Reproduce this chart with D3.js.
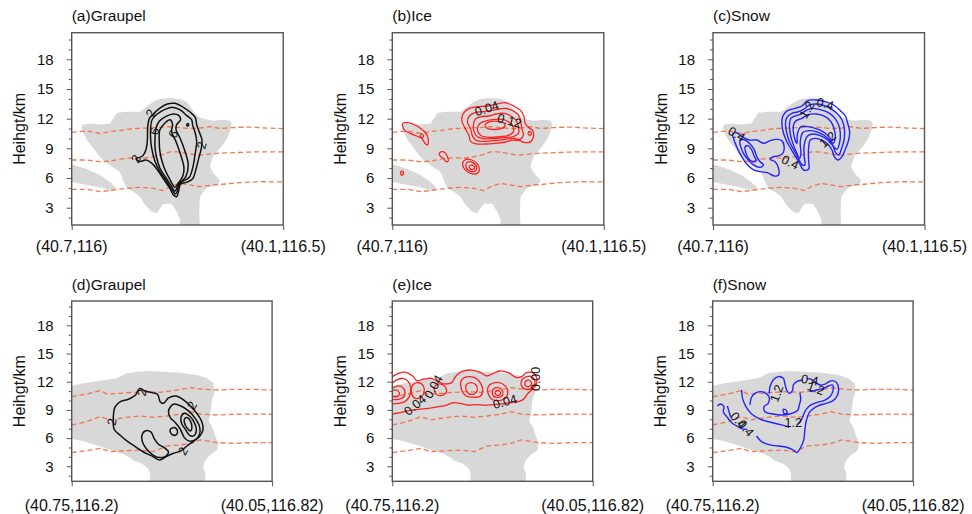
<!DOCTYPE html>
<html>
<head>
<meta charset="utf-8">
<script src="https://cdn.jsdelivr.net/npm/d3@7"></script>
<style>
body { margin: 0; background: #fff; }
text { font-family: "Liberation Sans", Arial, sans-serif; }
</style>
</head>
<body>
<svg id="chart" width="972" height="514"></svg>
<script>
// ---- data (x = % along the cross-section, y = height in km) ----
var titles = ["(a)Graupel", "(b)Ice", "(c)Snow", "(d)Graupel", "(e)Ice", "(f)Snow"];
var xLabelsTop = ["(40.7,116)", "(40.1,116.5)"];
var xLabelsBottom = ["(40.75,116.2)", "(40.05,116.82)"];
var yTicks = [3, 6, 9, 12, 15, 18];
var yMinor = [2, 4, 5, 7, 8, 10, 11, 13, 14, 16, 17, 19, 20];

// cloud area (grey) along the two sections
var cloudTop = [[5.2,11.4],[8.7,11.5],[13.4,11.4],[18.1,11.5],[20.5,12.3],[21.3,12.6],[26,12.7],[32.3,12.7],[35.4,13.2],[38.6,13.7],[41.7,14.0],[46.5,14.1],[51.2,14.0],[54.3,13.7],[56.7,13.0],[59.1,12.3],[62.2,12.0],[66.9,11.8],[71.7,11.9],[74.8,11.8],[75.6,11.5],[74.8,10.7],[73.2,9.9],[70.9,9.2],[66.9,8.2],[65.3,7.2],[66.9,6.5],[70,5.8],[69.3,5.3],[63.7,5.0],[60.6,4.1],[60.3,2.5],[60.6,1.25],[51.2,1.25],[51.2,1.8],[49.6,2.6],[47.3,3.4],[43.3,3.4],[40.2,2.45],[37.8,2.6],[34.6,3.3],[32.3,4.1],[29.1,4.62],[26,4.96],[24.4,5.7],[22.8,6.6],[18.1,7.3],[13.4,8.1],[10.2,9.0],[7.4,9.8],[5.5,10.5],[4.7,11.0]];
var stripTop = [[0,7.4],[7.1,6.9],[13.4,6.3],[18.1,5.6],[21,5.0],[18.9,4.7],[13.4,5.05],[7.1,5.3],[0,5.6]];
var cloudBottom = [[0,11.54],[5.8,11.83],[14.2,12.11],[22.5,12.36],[27.5,12.89],[32.5,13.07],[39.2,13.14],[45.8,13.07],[54.2,12.96],[62.5,12.71],[67.5,12.36],[70.8,11.83],[71.2,10.8],[70,10.09],[69.2,8.67],[68.3,7.79],[70,7.26],[71.7,6.19],[73,5.5],[72.5,4.7],[69,4.2],[66.5,3.6],[65.5,2.9],[66.7,2.25],[66.7,1.4],[39,1.4],[39,2.3],[38,2.8],[35,3.3],[31,3.6],[28.3,4.0],[25.8,4.3],[20.8,4.6],[15.8,5.0],[10.8,5.35],[5.8,5.65],[0,5.9]];

// dashed isotherm-like lines
var levelsTop = [
  [[0,10.62],[7.1,10.75],[13.4,10.5],[18.1,10.7],[22.8,10.8],[29.1,11.0],[35.4,11.05],[41.7,11.1],[46.5,11.2],[51.2,11.1],[55.9,11.0],[60.6,11.05],[65.4,11.2],[70.1,11.0],[76.4,11.1],[84.3,11.15],[92.1,11.05],[100,11.0]],
  [[0,7.82],[7.1,7.82],[13.4,7.65],[18.1,7.7],[22.8,7.9],[29.1,8.05],[33.9,8.0],[38.6,8.15],[43.3,8.4],[46.5,8.65],[49.6,8.65],[54.3,8.5],[59.1,8.3],[63.8,8.4],[68.5,8.5],[74.8,8.55],[81.1,8.6],[89,8.65],[100,8.65]],
  [[0,4.86],[7.1,4.86],[13.4,4.62],[19.7,4.79],[26,4.96],[32.3,5.06],[38.6,4.96],[43.3,4.72],[46.5,5.13],[51.2,5.46],[55.9,5.3],[60.6,5.13],[66.9,5.3],[73.2,5.4],[79.5,5.53],[89,5.63],[100,5.6]]
];
var levelsBottom = [
  [[0,10.41],[7.5,10.69],[14.2,11.05],[17.5,10.69],[24.2,10.76],[30.8,10.87],[37.5,10.94],[44.2,10.87],[50.8,11.05],[59.2,11.36],[65.8,11.19],[72.5,11.12],[80.8,11.19],[90.8,11.19],[100,11.12]],
  [[0,7.39],[7.5,7.75],[14.2,8.28],[19.2,7.93],[27.5,8.21],[34.2,8.35],[40.8,8.21],[47.5,8.35],[54.2,8.56],[59.2,8.81],[64.2,8.56],[72.5,8.46],[80.8,8.53],[90.8,8.56],[100,8.53]],
  [[0,4.45],[7.5,4.66],[14.2,4.91],[19.2,4.56],[27.5,4.66],[34.2,4.73],[40.8,4.56],[47.5,5.16],[54.2,5.27],[59.2,5.44],[64.2,5.8],[72.5,5.52],[80.8,5.44],[90.8,5.52],[100,5.52]]
];

// (a) graupel contours
var graupelA = [
  [[30.4,7.95],[33.5,8.22],[35.1,8.86],[35.8,9.87],[35.9,11.05],[36.7,12.0],[38.6,12.47],[41.7,13.07],[45.2,13.48],[48.8,13.55],[52.4,13.2],[55.9,12.67],[58.4,12.13],[59.1,11.39],[60.3,10.65],[61.6,9.87],[61.3,9.03],[60.0,7.95],[58.7,6.84],[57.2,5.93],[54.3,5.56],[51.5,5.39],[50.6,4.72],[49.6,4.11],[48.0,4.31],[46.5,4.92],[43.6,5.83],[40.5,6.84],[37.8,7.51],[35.1,7.82],[32.3,7.68]],
  [[37.3,11.05],[38.0,11.89],[40.5,12.47],[44.1,12.94],[48.0,13.14],[51.5,12.87],[54.3,12.33],[56.7,11.89],[57.2,11.32],[58.3,10.65],[59.1,9.70],[58.3,8.36],[57.2,7.01],[55.6,6.07],[53.1,5.73],[50.9,5.49],[49.9,4.65],[49.0,4.38],[47.7,4.72],[44.9,5.66],[41.7,6.67],[39.4,7.68],[37.8,9.03],[37.3,10.04]],
  [[39.4,10.04],[39.9,11.05],[41.4,11.73],[44.6,12.23],[48.0,12.47],[50.6,12.33],[51.5,11.89],[49.6,11.39],[49.3,10.88],[51.2,10.04],[53.6,8.69],[55.1,7.35],[54.0,6.17],[52.0,5.66],[49.9,5.06],[48.8,4.65],[47.2,5.16],[44.6,6.0],[41.7,7.01],[40.2,8.02],[39.4,9.03]],
  [[41.4,9.70],[41.7,10.88],[44.1,11.56],[46.5,11.89],[47.7,11.39],[47.2,10.72],[49.3,9.70],[51.5,8.36],[53.1,7.01],[52.5,6.17],[50.4,5.49],[48.8,5.06],[46.5,5.83],[44.1,6.84],[42.5,7.85],[41.7,8.69]],
  [[54.5,11.45],[55.1,11.5],[55.2,11.3],[54.6,11.28]]
];
var labelsA = [[30.4,7.95,"2",-60],[37.3,12.57,"2",-70],[39.1,10.72,"6",-75],[48.0,10.45,"6",-60],[61.4,9.3,"2",-75]];

// (b) ice contours
var iceB = [
  [[32.83,11.86],[33.62,12.54],[36.46,13.04],[40.24,13.21],[44.66,13.28],[49.39,13.48],[53.33,13.62],[57.28,13.28],[60.75,12.81],[62.33,12.14],[62.8,11.53],[64.38,11.13],[66.43,10.79],[66.74,10.18],[65.48,9.68],[62.8,9.58],[60.11,9.78],[57.28,9.84],[53.33,9.64],[48.6,9.51],[43.87,9.44],[39.61,9.44],[37.09,9.68],[36.14,10.35],[34.4,11.02]],
  [[35.51,11.69],[36.46,12.27],[39.14,12.61],[42.76,12.71],[46.23,12.81],[49.39,12.94],[53.33,13.04],[56.96,12.81],[59.64,12.37],[60.75,11.69],[61.22,11.02],[62.01,10.35],[60.43,9.91],[57.28,10.01],[53.33,9.91],[48.6,9.78],[43.87,9.71],[39.93,9.78],[38.03,10.18],[37.09,10.92]],
  [[38.35,11.36],[39.14,11.93],[41.82,12.2],[45.45,12.27],[49.08,12.47],[52.86,12.54],[56.01,12.27],[58.54,11.8],[59.64,11.19],[59.64,10.52],[57.28,10.18],[52.55,10.08],[47.81,9.98],[43.4,9.98],[40.24,10.18],[38.66,10.69]],
  [[40.24,11.02],[41.5,11.53],[44.66,11.8],[48.6,11.93],[52.23,11.93],[54.91,11.69],[56.96,11.26],[57.28,10.69],[54.91,10.32],[50.97,10.18],[46.23,10.11],[42.29,10.25],[40.71,10.59]],
  [[43.87,11.36],[46.23,11.69],[49.71,11.73],[52.55,11.59],[53.33,11.26],[51.28,10.99],[47.03,10.92],[44.66,11.06]],
  [[64.3,10.6],[65.2,10.7],[65.8,10.5],[65.1,10.3],[64.4,10.4]],
  [[4.91,11.53],[7.59,11.59],[10.74,11.36],[13.9,10.92],[15.95,10.52],[17.05,9.84],[16.58,9.34],[15.47,9.51],[13.9,10.01],[11.53,10.25],[8.38,10.52],[6.01,10.79],[4.91,11.19]],
  [[13.3,10.35],[14.2,10.45],[14.7,10.2],[13.9,10.05],[13.3,10.15]],
  [[22.26,8.5],[23.36,8.66],[24.94,8.56],[26.04,8.16],[26.52,7.75],[25.41,7.65],[24.15,7.99],[22.57,8.23]],
  [[33.3,7.55],[34.88,7.89],[37.56,7.82],[40.24,7.42],[41.19,6.88],[40.24,6.47],[38.03,6.41],[35.51,6.64],[33.62,7.08]],
  [[34.88,7.42],[36.46,7.65],[38.66,7.48],[39.93,7.08],[39.14,6.71],[37.09,6.68],[35.2,6.95]],
  [[36.46,7.21],[38.03,7.28],[38.98,7.04],[38.03,6.87],[36.77,6.94]],
  [[4.0,6.6],[4.7,6.7],[5.3,6.5],[4.8,6.3],[4.1,6.35]]
];
var labelsB = [[44.66,13.04,"0.04",-18],[55.4,11.8,"0.12",15]];

// (c) snow contours
var snowC = [
  [[32.55,11.53],[33.02,12.27],[35.23,12.81],[38.87,13.04],[42.03,13.28],[44.71,13.82],[48.82,13.89],[53.09,13.72],[57.04,13.38],[60.2,12.81],[62.57,12.27],[63.67,11.53],[64.62,10.69],[64.15,9.84],[62.57,8.9],[60.99,8.16],[59.09,7.82],[57.35,8.16],[56.25,8.83],[54.19,9.44],[51.51,9.84],[48.35,10.01],[45.98,9.84],[45.19,9.0],[45.19,7.82],[45.19,6.88],[42.82,6.81],[40.92,7.48],[39.03,8.16],[36.97,8.9],[34.92,9.67],[33.34,10.52]],
  [[34.29,11.53],[34.92,12.14],[37.29,12.54],[39.97,12.67],[42.82,12.94],[45.66,13.38],[49.14,13.48],[53.09,13.28],[56.25,12.94],[58.93,12.47],[60.99,11.86],[62.09,11.02],[62.09,10.01],[60.99,9.1],[59.41,8.33],[57.99,8.56],[56.72,9.24],[54.19,9.84],[51.03,10.25],[47.56,10.45],[44.71,10.25],[43.13,9.34],[43.13,8.16],[43.45,7.32],[42.19,7.32],[39.97,8.16],[38.08,8.9],[36.18,9.67],[34.92,10.52]],
  [[36.18,11.53],[36.81,12.03],[38.87,12.27],[41.55,12.47],[44.4,12.87],[47.24,13.04],[51.51,12.87],[55.14,12.54],[57.67,12.03],[59.41,11.36],[60.2,10.52],[59.88,9.57],[58.62,8.9],[57.04,9.17],[55.14,9.84],[52.3,10.35],[48.82,10.69],[45.66,10.79],[42.5,10.59],[41.24,9.67],[41.55,8.49],[40.92,7.99],[39.34,8.66],[37.76,9.5],[36.5,10.52]],
  [[38.08,11.36],[39.34,11.8],[42.03,12.03],[44.71,12.37],[48.82,12.47],[53.09,12.2],[55.77,11.7],[57.35,10.92],[57.83,10.11],[56.72,9.51],[54.83,10.18],[51.98,10.69],[48.35,11.02],[44.71,11.19],[41.55,11.19],[39.97,10.52],[39.66,9.5],[38.39,10.18]],
  [[9.32,10.45],[11.22,10.58],[13.59,10.18],[17.22,9.84],[20.7,9.84],[23.86,9.51],[27.02,9.78],[30.18,9.91],[32.55,9.78],[33.65,9.17],[33.02,8.5],[30.97,8.23],[28.6,8.16],[27.02,7.89],[29.39,7.65],[30.97,6.98],[30.97,6.31],[28.91,6.2],[25.75,6.54],[22.28,6.64],[18.8,6.88],[15.96,7.41],[13.59,8.16],[11.53,9.0],[9.95,9.84]],
  [[12.8,9.84],[15.17,9.84],[17.54,9.44],[19.43,8.9],[20.7,8.16],[22.28,7.65],[23.86,7.32],[22.28,7.08],[19.12,7.32],[16.75,7.82],[14.38,8.49],[13.11,9.17]],
  [[15.17,9.17],[16.75,9.24],[18.33,8.83],[19.43,8.23],[20.38,7.75],[18.8,7.65],[16.75,7.99],[15.64,8.49]]
];
var labelsC = [[11.2,10.45,"0.4",30],[44.4,12.9,"1.2",-60],[53.1,13.5,"0.4",15],[54.2,9.9,"1.2",-40],[36.5,7.6,"0.4",25]];

// (d) graupel contours
var graupelD = [
  [[20.8,8.35],[21.7,9.35],[24.5,9.91],[28.3,10.13],[31.7,10.55],[33.8,11.26],[36.7,11.01],[40.0,10.84],[42.8,10.66],[44.2,9.84],[45.8,9.7],[48.3,10.27],[52.2,10.48],[55.8,10.06],[59.5,9.35],[62.8,8.53],[65.0,7.72],[65.5,6.87],[63.8,6.16],[60.8,5.66],[57.5,5.16],[54.5,4.63],[50.8,4.38],[47.2,4.03],[43.8,3.67],[40.0,4.1],[35.8,4.52],[31.7,5.09],[27.5,5.7],[24.2,6.3],[21.2,6.94]],
  [[48.3,8.89],[50.8,9.6],[54.5,9.42],[58.3,8.89],[61.7,8.07],[63.8,7.22],[63.8,6.4],[61.7,5.8],[58.3,5.7],[56.2,6.05],[54.2,6.94],[51.7,7.65],[49.2,8.18]],
  [[54.5,8.18],[56.2,8.64],[58.8,8.35],[61.2,7.65],[62.2,6.76],[60.8,6.23],[58.8,6.3],[56.7,6.94],[55.0,7.47]],
  [[56.2,8.0],[57.5,8.18],[59.2,7.82],[60.0,7.11],[59.2,6.76],[57.8,7.01],[56.7,7.36]],
  [[49.2,6.94],[50.5,7.11],[52.2,7.01],[52.8,6.58],[51.7,6.3],[50.0,6.4],[49.2,6.65]],
  [[35.0,6.23],[36.7,6.76],[39.5,6.65],[41.2,5.94],[43.3,5.34],[46.2,4.99],[48.3,4.52],[47.2,4.1],[44.2,3.92],[40.8,4.17],[37.8,4.74],[35.8,5.34]]
];
var labelsD = [[35.0,10.84,"2",-80],[20.0,7.72,"2",-80],[60.0,9.49,"2",-60],[55.5,4.63,"2",-60]];

// (e) ice contours: lines cut by the left edge, and closed rings
var iceELines = [
  [[0,12.54],[3.0,12.89],[6.8,13.0],[10.2,12.61],[12.2,12.12],[15.5,12.26],[19.6,12.36],[23.0,12.01],[26.3,11.76],[29.6,11.9],[31.8,12.61],[34.6,13.07],[39.6,13.24],[43.8,13.0],[47.1,12.61],[50.4,12.89],[53.7,13.14],[57.9,12.96],[61.7,12.46],[64.5,12.54],[67.0,12.96],[70.0,12.96],[72.0,12.46],[71.7,11.65],[69.5,11.12],[67.4,10.69],[65.4,10.12],[62.9,9.88],[58.7,9.77],[54.6,9.63],[50.4,9.56],[46.3,9.49],[42.1,9.56],[37.9,9.52],[33.8,9.7],[30.4,9.77],[27.1,9.52],[23.0,9.34],[18.0,9.17],[13.0,9.06],[8.0,8.92],[3.8,8.71],[0,8.56]],
  [[0,11.83],[2.2,12.19],[5.5,12.36],[8.0,12.01],[9.2,11.3],[8.5,10.41],[6.3,9.88],[3.0,9.7],[0,9.63]],
  [[0,11.3],[2.2,11.54],[4.7,11.47],[6.3,10.94],[5.5,10.34],[3.0,10.12],[0,10.12]],
  [[0,11.05],[1.8,11.12],[3.5,10.84],[3.0,10.48],[0.8,10.41],[0,10.48]]
];
var iceE = [
  [[10.2,11.65],[13.0,11.9],[15.5,11.54],[15.8,10.84],[14.2,10.34],[11.3,10.23],[9.7,10.76]],
  [[21.3,11.54],[23.8,11.76],[26.3,11.47],[27.1,10.94],[25.5,10.59],[22.5,10.59],[21.0,11.05]],
  [[34.6,12.19],[37.9,12.54],[41.8,12.36],[44.1,11.83],[45.1,11.12],[44.1,10.48],[40.4,10.34],[36.8,10.48],[34.6,11.12]],
  [[36.8,11.65],[39.1,11.9],[41.8,11.65],[42.4,11.05],[40.8,10.69],[37.9,10.76],[36.8,11.19]],
  [[47.9,11.47],[51.2,11.9],[55.1,11.76],[57.4,11.19],[57.1,10.41],[54.6,10.05],[50.4,10.05],[48.1,10.59]],
  [[50.1,11.12],[52.4,11.4],[54.7,11.12],[55.1,10.59],[52.9,10.34],[50.4,10.48]],
  [[51.4,10.9],[53.1,11.05],[54.1,10.76],[52.9,10.55],[51.6,10.66]],
  [[64.5,12.12],[67.0,12.54],[70.0,12.46],[71.2,11.9],[69.5,11.3],[66.7,11.19],[64.7,11.47]],
  [[66.2,11.9],[67.9,12.19],[69.5,11.9],[68.7,11.54],[66.7,11.54]]
];
var labelsE = [[11.3,9.52,"0.04",-40],[20.5,11.47,"0.04",-60],[56.2,9.88,"0.04",-15],[71.6,12.3,"0.00",-90]];

// (f) snow contours
var snowFLines = [
  [[21.9,6.22],[24.4,5.62],[28.6,5.27],[32.7,5.16],[36.9,5.02],[40.2,4.73],[41.9,4.45],[43.9,5.02],[45.5,5.87],[46.0,6.93],[46.9,8.0],[48.5,8.81],[52.2,9.41],[56.5,9.7],[60.1,9.98],[62.3,10.58],[62.8,11.29],[61.8,11.9],[59.8,12.11],[57.7,11.97],[56.0,11.75],[53.5,11.65],[51.5,11.9],[49.3,12.25],[46.9,12.36]],
  [[28.2,10.76],[28.6,11.47],[30.2,12.18],[32.7,12.54],[35.2,12.36],[36.0,11.83],[36.9,11.12],[38.2,10.76],[39.9,11.12],[40.2,11.65],[41.9,12.01],[44.9,12.18]],
  [[14.4,11.12],[14.9,10.23],[16.6,9.34],[19.4,8.56],[23.9,8.0],[28.9,7.68],[33.9,7.43],[38.2,7.15]],
  [[42.2,7.39],[44.4,8.0],[46.0,8.81],[48.2,9.41],[51.8,9.77],[56.0,10.05],[58.8,10.48],[60.1,11.12],[59.8,11.65],[57.7,11.54],[55.2,11.29],[51.8,11.12],[48.5,10.94]],
  [[18.6,9.52],[19.4,10.34],[21.1,10.76],[23.6,10.94],[26.6,10.76],[28.2,10.34],[27.7,9.7],[25.6,9.34],[26.1,8.81],[30.2,8.56],[34.4,8.46],[38.5,8.56],[42.5,8.99],[43.2,9.52],[43.9,10.12],[43.5,10.83]],
  [[2.3,9.41],[4.0,9.63],[5.6,9.34],[5.3,8.81],[7.0,8.28],[9.5,7.64],[12.0,7.29],[14.4,7.0],[17.3,6.93]],
  [[7.3,9.41],[8.0,8.92],[9.0,8.21]]
];
var snowF = [
  [[35.2,9.06],[36.5,8.99],[37.2,8.63],[35.6,8.63]]
];
var labelsF = [[48.5,12.2,"0.4",10],[51.5,11.3,"1.2",20],[31.9,10.76,"1.2",-70],[40.2,7.64,"1.2",0],[12.8,7.9,"0.4",50],[16.6,7.05,"0.4",50]];

// ---- layout ----
var svg = d3.select("#chart");
var rows = [
  {top: 32.7, bottom: 225, domain: [1.25, 20.69], lefts: [71.7, 392.3, 713], width: 211.5,
   cloud: [cloudTop, stripTop], levels: levelsTop, xLabels: xLabelsTop, titleY: 21, xLabelY: 252},
  {top: 301, bottom: 481.3, domain: [1.4, 20.59], lefts: [71.7, 392.3, 712.7], width: 200.4,
   cloud: [cloudBottom], levels: levelsBottom, xLabels: xLabelsBottom, titleY: 290, xLabelY: 511}
];
var panels = [
  {row: 0, col: 0, rings: graupelA, lines: [], labels: labelsA, color: "#111", w: 1.5},
  {row: 0, col: 1, rings: iceB, lines: [], labels: labelsB, color: "#ff1f1f", w: 1.3},
  {row: 0, col: 2, rings: snowC, lines: [], labels: labelsC, color: "#2323ff", w: 1.4},
  {row: 1, col: 0, rings: graupelD, lines: [], labels: labelsD, color: "#111", w: 1.5},
  {row: 1, col: 1, rings: iceE, lines: iceELines, labels: labelsE, color: "#ff1f1f", w: 1.3},
  {row: 1, col: 2, rings: snowF, lines: snowFLines, labels: labelsF, color: "#2323ff", w: 1.4}
];

panels.forEach(function(p, i) {
  var r = rows[p.row];
  var x0 = r.lefts[p.col], x1 = x0 + r.width;
  var x = d3.scaleLinear().domain([0, 100]).range([x0, x1]);
  var y = d3.scaleLinear().domain(r.domain).range([r.bottom, r.top]);

  var clipId = "clip" + i;
  svg.append("clipPath").attr("id", clipId)
    .append("rect").attr("x", x0).attr("y", r.top).attr("width", x1 - x0).attr("height", r.bottom - r.top);

  var g = svg.append("g").attr("clip-path", "url(#" + clipId + ")");

  // grey cloud area
  var area = d3.line().x(function(d) { return x(d[0]); }).y(function(d) { return y(d[1]); }).curve(d3.curveLinearClosed);
  g.selectAll(".cloud").data(r.cloud).enter().append("path")
    .attr("d", area).attr("fill", "#d8d8d8").attr("stroke", "none");

  // dashed lines
  var lv = d3.line().x(function(d) { return x(d[0]); }).y(function(d) { return y(d[1]); });
  g.selectAll(".lev").data(r.levels).enter().append("path")
    .attr("d", lv).attr("fill", "none").attr("stroke", "#f26a3c")
    .attr("stroke-width", 1.3).attr("stroke-dasharray", "5,3").attr("opacity", 0.9);

  // contours
  var ring = d3.line().x(function(d) { return x(d[0]); }).y(function(d) { return y(d[1]); }).curve(d3.curveCatmullRomClosed.alpha(0.5));
  var open = d3.line().x(function(d) { return x(d[0]); }).y(function(d) { return y(d[1]); }).curve(d3.curveCatmullRom.alpha(0.5));
  g.selectAll(".ring").data(p.rings).enter().append("path")
    .attr("d", ring).attr("fill", "none").attr("stroke", p.color).attr("stroke-width", p.w);
  g.selectAll(".open").data(p.lines).enter().append("path")
    .attr("d", open).attr("fill", "none").attr("stroke", p.color).attr("stroke-width", p.w);

  g.selectAll(".lab").data(p.labels).enter().append("text")
    .attr("transform", function(d) { return "translate(" + x(d[0]) + "," + y(d[1]) + ") rotate(" + d[3] + ")"; })
    .attr("text-anchor", "middle").attr("dy", "0.35em")
    .attr("font-size", 12.5).attr("fill", "#111")
    .text(function(d) { return d[2]; });

  // frame
  svg.append("rect").attr("x", x0).attr("y", r.top).attr("width", x1 - x0).attr("height", r.bottom - r.top)
    .attr("fill", "none").attr("stroke", "#555").attr("stroke-width", 1.4);

  // y axis
  var ya = svg.append("g").attr("transform", "translate(" + x0 + ",0)")
    .call(d3.axisLeft(y).tickValues(yTicks).tickSize(5).tickPadding(13));
  ya.select(".domain").remove();
  ya.selectAll("line").attr("stroke", "#555");
  ya.selectAll("text").attr("font-size", 15).attr("fill", "#111").attr("font-family", "Liberation Sans, Arial, sans-serif");
  var ym = svg.append("g").attr("transform", "translate(" + x0 + ",0)")
    .call(d3.axisLeft(y).tickValues(yMinor).tickSize(3).tickFormat(""));
  ym.select(".domain").remove();
  ym.selectAll("line").attr("stroke", "#555");

  // x axis end ticks
  var xa = svg.append("g").attr("transform", "translate(0," + r.bottom + ")")
    .call(d3.axisBottom(x).tickValues([0, 100]).tickSize(5).tickFormat(""));
  xa.select(".domain").remove();
  xa.selectAll("line").attr("stroke", "#555");

  svg.selectAll(".xl" + i).data(r.xLabels).enter().append("text")
    .attr("x", function(d, k) { return k === 0 ? x0 : x1; })
    .attr("y", r.xLabelY).attr("text-anchor", "middle")
    .attr("font-size", 16).attr("fill", "#111").text(function(d) { return d; });

  svg.append("text").attr("x", x0).attr("y", r.titleY)
    .attr("font-size", 15.5).attr("fill", "#111").text(titles[i]);

  svg.append("text")
    .attr("transform", "translate(" + (x0 - 46.5) + "," + ((r.top + r.bottom) / 2) + ") rotate(-90)")
    .attr("text-anchor", "middle").attr("font-size", 16).attr("fill", "#111")
    .text("Heihgt/km");
});
</script>
</body>
</html>
